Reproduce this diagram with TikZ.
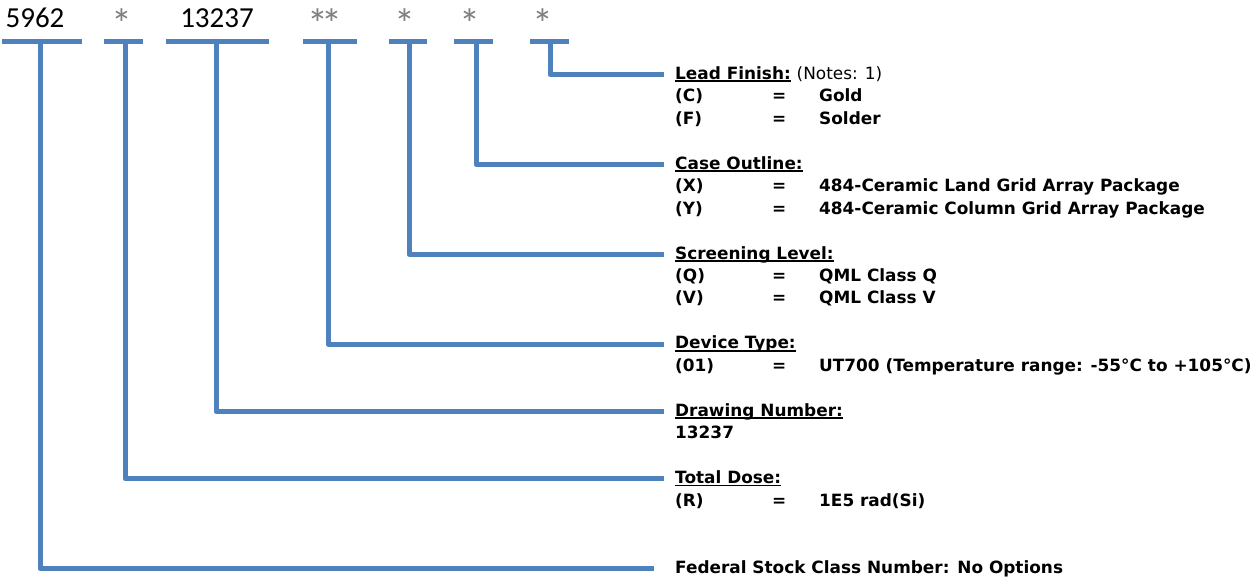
\documentclass[tikz,border=0pt]{standalone}
\usepackage{fontspec}
\setmainfont{DejaVu Sans}
\newfontfamily\hdrfont{Carlito}
\definecolor{lineblue}{HTML}{4F81BD}
\definecolor{stargray}{HTML}{7F7F7F}
\newcommand\ulbox[1]{\setbox0\hbox{#1}\rlap{\rule[-2.7pt]{\wd0}{1.7pt}}\box0\relax}
\newcommand\rowtxt[3]{\makebox[97pt][l]{#1}\makebox[47pt][l]{#2}#3}
\begin{document}
\begin{tikzpicture}[x=1pt,y=-1pt,
  conn/.style={draw=lineblue,line width=5pt,line join=round},
  bar/.style={draw=lineblue,line width=5pt},
  hdr/.style={font=\hdrfont\fontsize{29}{30}\selectfont,inner sep=0pt,anchor=base},
  star/.style={font=\hdrfont\fontsize{42}{44}\selectfont,inner sep=0pt,anchor=base,text=stargray},
  lbl/.style={font=\fontsize{16.9}{20}\selectfont\bfseries,inner sep=0pt,anchor=base west},
]
\useasboundingbox (0,0) rectangle (1257,582);
% header
\node[hdr]  (h1) at (35,27)  {5962};
\node[star] (h2) at (121.5,38) {*};
\node[hdr]  (h3) at (217,27) {13237};
\node[star] (h4) at (325,38) {*\kern-6.5pt*};
\node[star] (h5) at (405,38) {*};
\node[star] (h6) at (470,38) {*};
\node[star] (h7) at (543,38) {*};
% bars
\draw[bar] (2,41.5) -- (82,41.5);
\draw[bar] (104,41.5) -- (143,41.5);
\draw[bar] (166,41.5) -- (269,41.5);
\draw[bar] (303,41.5) -- (357,41.5);
\draw[bar] (389,41.5) -- (427,41.5);
\draw[bar] (454,41.5) -- (493,41.5);
\draw[bar] (530,41.5) -- (569,41.5);
% bar anchor coordinates
\coordinate (b1) at (40,41.5);
\coordinate (b2) at (125,41.5);
\coordinate (b3) at (216,41.5);
\coordinate (b4) at (328,41.5);
\coordinate (b5) at (409,41.5);
\coordinate (b6) at (476,41.5);
\coordinate (b7) at (550,41.5);
% line ends
\coordinate (e7) at (664,74.5);
\coordinate (e6) at (664,164.3);
\coordinate (e5) at (664,254.2);
\coordinate (e4) at (664,344.0);
\coordinate (e3) at (664,411.4);
\coordinate (e2) at (664,478.8);
\coordinate (e1) at (654,568.6);
% labels (baseline = 79.3 + row*22.46)
\node[lbl] (lead)   at (675,79.3)  {\ulbox{Lead Finish:} {\mdseries(Notes: 1)}};
\node[lbl] (leadc)  at (675,101.8) {\rowtxt{(C)}{=}{Gold}};
\node[lbl] (leadf)  at (675,124.2) {\rowtxt{(F)}{=}{Solder}};
\node[lbl] (case)   at (675,169.1) {\ulbox{Case Outline:}};
\node[lbl] (casex)  at (675,191.6) {\rowtxt{(X)}{=}{484-Ceramic Land Grid Array Package}};
\node[lbl] (casey)  at (675,214.1) {\rowtxt{(Y)}{=}{484-Ceramic Column Grid Array Package}};
\node[lbl] (scr)    at (675,259.0) {\ulbox{Screening Level:}};
\node[lbl] (scrq)   at (675,281.4) {\rowtxt{(Q)}{=}{QML Class Q}};
\node[lbl] (scrv)   at (675,303.9) {\rowtxt{(V)}{=}{QML Class V}};
\node[lbl] (dev)    at (675,348.8) {\ulbox{Device Type:}};
\node[lbl] (dev01)  at (675,371.3) {\rowtxt{(01)}{=}{UT700 (Temperature range: -55°C to +105°C)}};
\node[lbl] (drw)    at (675,416.2) {\ulbox{Drawing Number:}};
\node[lbl] (drwn)   at (675,438.7) {13237};
\node[lbl] (dose)   at (675,483.6) {\ulbox{Total Dose:}};
\node[lbl] (doser)  at (675,506.0) {\rowtxt{(R)}{=}{1E5 rad(Si)}};
\node[lbl] (fed)    at (675,573.4) {Federal Stock Class Number: No Options};
% connectors
\draw[conn] (b7) |- (e7);
\draw[conn] (b6) |- (e6);
\draw[conn] (b5) |- (e5);
\draw[conn] (b4) |- (e4);
\draw[conn] (b3) |- (e3);
\draw[conn] (b2) |- (e2);
\draw[conn] (b1) |- (e1);
\end{tikzpicture}
\end{document}
